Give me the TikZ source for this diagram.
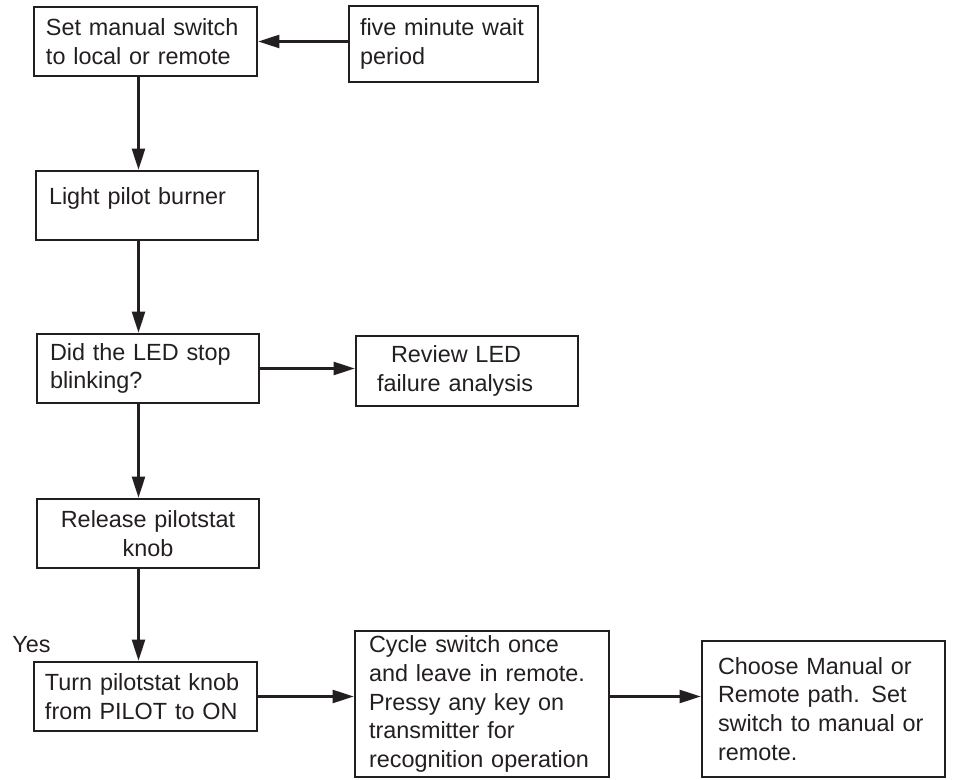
\documentclass[tikz,border=0pt]{standalone}
\usepackage{fontspec}
\setmainfont{Liberation Sans}
\usepackage{tikz}
\usetikzlibrary{arrows.meta}
\definecolor{ink}{HTML}{231F20}

\begin{document}
\begin{tikzpicture}[x=0.5pt,y=-0.5pt,
  stepbox/.style={draw=ink,line width=1.3pt,text=ink,align=left,inner xsep=6.5pt,inner ysep=0pt,
    font=\fontsize{11.7}{14.4}\selectfont},
  flow/.style={draw=ink,line width=1.1pt,-{Triangle[length=10.5pt,width=6.5pt]}}]
\useasboundingbox (0,0) rectangle (955,780);
\node[stepbox,inner xsep=6pt,text width=99.5pt,minimum height=34.5pt] (manual) at (145.5,41.5) {Set manual switch\\to local or remote};
\node[stepbox,inner xsep=5.5pt,text width=83.5pt,minimum height=38pt] (wait) at (443.5,44) {five minute wait\\period};
\node[stepbox,text width=98pt,text height=17pt,text depth=17.5pt] (light) at (147,205.5) {Light pilot burner};
\node[stepbox,text width=98pt,minimum height=34.5pt] (led) at (148,368.5) {Did the LED stop\\blinking?};
\node[stepbox,inner xsep=10.5pt,text width=90pt,minimum height=35pt] (review) at (467,371) {\hspace*{7pt}Review LED\\failure analysis};
\node[stepbox,align=center,text width=98pt,minimum height=34.5pt] (release) at (148,533.5) {Release pilotstat\\knob};
\node[stepbox,inner xsep=5.5pt,text width=100.5pt,minimum height=34.5pt] (turn) at (145.5,696.5) {Turn pilotstat knob\\from PILOT to ON};
\node[stepbox,inner xsep=7pt,text width=113pt,minimum height=73pt] (cycle) at (482,704) {Cycle switch once\\and leave in remote.\\Pressy any key on\\transmitter for\\recognition operation};
\node[stepbox,inner xsep=8pt,text width=105.5pt,minimum height=68pt] (choose) at (823.5,709) {Choose Manual or\\Remote path. Set\\switch to manual or\\remote.};
\node[text=ink,font=\fontsize{11.7}{14.4}\selectfont,anchor=base west,inner sep=0pt] (yes) at (12,653) {Yes};
\coordinate (spine) at (138.5,0);
\draw[flow] (wait.west |- manual.east) -- (manual.east);
\draw[flow] (manual.south -| spine) -- (light.north -| spine);
\draw[flow] (light.south -| spine) -- (led.north -| spine);
\draw[flow] (led.east) -- (led.east -| review.west);
\draw[flow] (led.south -| spine) -- (release.north -| spine);
\draw[flow] (release.south -| spine) -- (turn.north -| spine);
\draw[flow] (turn.east) -- (turn.east -| cycle.west);
\draw[flow] (cycle.east |- turn.east) -- (choose.west |- turn.east);
\end{tikzpicture}
\end{document}
